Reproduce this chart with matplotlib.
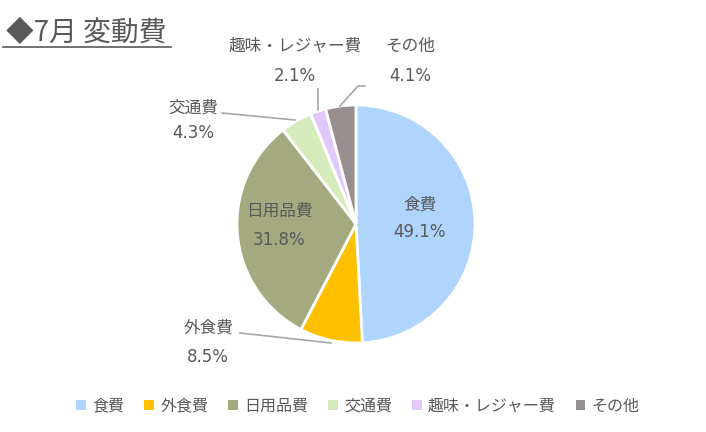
import matplotlib
matplotlib.use("Agg")
from matplotlib import pyplot as plt

plt.rcParams['font.family'] = ['Noto Sans CJK JP', 'DejaVu Sans']

categories = ["食費", "外食費", "日用品費", "交通費", "趣味・レジャー費", "その他"]
shares = [49.1, 8.5, 31.8, 4.3, 2.1, 4.1]
colors = ["#AFD4FD", "#FFC000", "#A5A97F", "#D6EBBC", "#E2C8FA", "#978F8F"]
title = "◆7月 変動費"

TEXT = "#595959"
W, H = 706, 432

fig = plt.figure(figsize=(W / 100, H / 100), dpi=100)

# pie axes: centre (356, 224), radius 119 px
cx, cy, r = 356, 224, 119
ax = fig.add_axes([(cx - r) / W, (H - cy - r) / H, 2 * r / W, 2 * r / H])
wedges, _ = ax.pie(shares, colors=colors, startangle=90, counterclock=False,
                   radius=1, wedgeprops=dict(edgecolor="white", linewidth=2))
ax.set_xlim(-1, 1)
ax.set_ylim(-1, 1)
ax.set_aspect("equal")
ax.axis("off")

# overlay axes in pixel coordinates for labels
ov = fig.add_axes([0, 0, 1, 1], zorder=5)
ov.set_xlim(0, W)
ov.set_ylim(H, 0)
ov.axis("off")

# label positions (name centre x, name y, value y)
label_pos = [
    (420, 205, 232),
    (208, 328, 357),
    (279, 211, 240),
    (193, 108, 133),
    (295, 46, 76),
    (410, 46, 76),
]
for name, val, (x, y1, y2) in zip(categories, shares, label_pos):
    ov.text(x, y1, name, ha="center", va="center", fontsize=12, color=TEXT)
    ov.text(x, y2, f"{val:.1f}%", ha="center", va="center", fontsize=12,
            color=TEXT, family="DejaVu Sans")

line_kw = dict(color="#A6A6A6", linewidth=1.2)
ov.plot([240, 331], [333, 343], **line_kw)
ov.plot([222, 295], [113, 120], **line_kw)
ov.plot([318, 318], [89, 110], **line_kw)
ov.plot([365, 358, 340], [86, 86, 106], **line_kw)

# title with underline
ov.text(6, 33, title, ha="left", va="center", fontsize=20, color=TEXT)
ov.plot([3, 171], [47, 47], color=TEXT, linewidth=1.2)

leg = fig.legend(wedges, categories, loc="center", bbox_to_anchor=(358 / W, 1 - 406 / H),
                 ncol=6, frameon=False, fontsize=11.5, handlelength=0.6, handleheight=0.6,
                 handletextpad=0.4, columnspacing=1.25, labelcolor=TEXT)
for h in leg.legend_handles:
    h.set_edgecolor("none")

fig.savefig("out.png", dpi=100)
